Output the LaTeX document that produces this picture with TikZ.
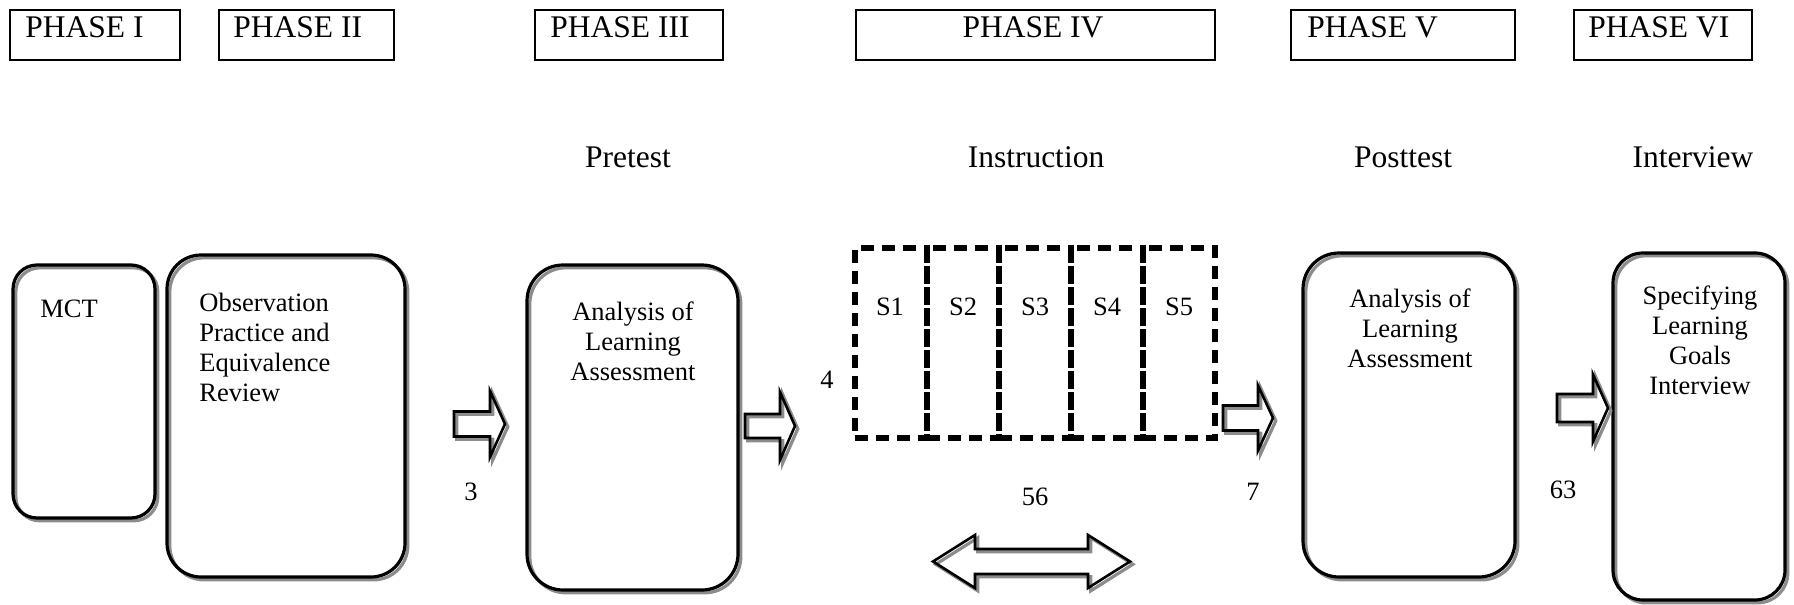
\documentclass[tikz,border=0pt]{standalone}
\usepackage{fontspec}
\setmainfont{Liberation Serif}
\begin{document}
\begin{tikzpicture}[x=0.5pt,y=-0.5pt,
  phasebox/.style={draw, line width=1.35pt, inner sep=0, minimum height=25pt},
  lab/.style={inner sep=0, font=\fontsize{15.75pt}{18pt}\selectfont},
  txt/.style={inner sep=0, font=\fontsize{13.25pt}{15pt}\selectfont},
  shadowed/.style={preaction={draw=black!45, line width=1.6pt, transform canvas={shift={(1.4pt,-1.4pt)}}}},
  rbox/.style={draw, line width=1.6pt, inner sep=0, shadowed},
  barrow/.style={draw, line width=1.3pt, line join=miter, shadowed},
  sbox/.style={draw, line width=2.7pt, dash pattern=on 6.5pt off 4pt, inner sep=0, minimum width=36pt, minimum height=95pt}]

\useasboundingbox (0,0) rectangle (1794,605);

% phase headers
\node[phasebox, minimum width=85pt]   (p1) at (95,35) {};
\node[phasebox, minimum width=87.5pt] (p2) at (306.5,35) {};
\node[phasebox, minimum width=94pt]   (p3) at (629,35) {};
\node[phasebox, minimum width=179.5pt](p4) at (1035.5,35) {};
\node[phasebox, minimum width=112pt]  (p5) at (1403,35) {};
\node[phasebox, minimum width=89pt]   (p6) at (1663,35) {};
\node[lab, anchor=base west] (p1t) at (25,38) {PHASE I};
\node[lab, anchor=base west] (p2t) at (233,38) {PHASE II};
\node[lab, anchor=base west] (p3t) at (550,38) {PHASE III};
\node[lab, anchor=base]      (p4t) at (1033,38) {PHASE IV};
\node[lab, anchor=base west] (p5t) at (1307,38) {PHASE V};
\node[lab, anchor=base west] (p6t) at (1588,38) {PHASE VI};

% stage labels
\node[lab, anchor=base] (lpre)  at (628,167)  {Pretest};
\node[lab, anchor=base] (lins)  at (1036,167) {Instruction};
\node[lab, anchor=base] (lpost) at (1403,167) {Posttest};
\node[lab, anchor=base] (lint)  at (1693,167) {Interview};

% rounded boxes
\node[rbox, rounded corners=12pt, minimum width=71pt,  minimum height=126.5pt] (mct)  at (84,391.5) {};
\node[rbox, rounded corners=17pt, minimum width=119pt, minimum height=161pt]   (obs)  at (286,416) {};
\node[rbox, rounded corners=18pt, minimum width=105.5pt, minimum height=162.5pt] (pre) at (632.5,427.5) {};
\node[rbox, rounded corners=18pt, minimum width=106pt, minimum height=162pt]   (post) at (1409,415) {};
\node[rbox, rounded corners=15pt, minimum width=86pt,  minimum height=173.5pt] (intv) at (1699,426.5) {};

% (base anchor of a multi-line node = baseline of its last line)
\node[txt, anchor=base west] (mctt) at (40,317) {MCT};
\node[txt, anchor=base west, align=left] (obst) at (199,401) {Observation\\Practice and\\Equivalence\\Review};
\node[txt, anchor=base, align=center] (pret) at (633,380) {Analysis of\\Learning\\Assessment};
\node[txt, anchor=base, align=center] (postt) at (1410,367) {Analysis of\\Learning\\Assessment};
\node[txt, anchor=base, align=center] (intvt) at (1700,394) {Specifying\\Learning\\Goals\\Interview};

% instruction sessions
\node[sbox] (s1) at (891,343) {};
\node[sbox] (s2) at (963,343) {};
\node[sbox] (s3) at (1035,343) {};
\node[sbox] (s4) at (1107,343) {};
\node[sbox] (s5) at (1179,343) {};
\node[txt, anchor=base] (s1t) at (890,315) {S1};
\node[txt, anchor=base] (s2t) at (963,315) {S2};
\node[txt, anchor=base] (s3t) at (1035,315) {S3};
\node[txt, anchor=base] (s4t) at (1107,315) {S4};
\node[txt, anchor=base] (s5t) at (1179,315) {S5};

% block arrows
\draw[barrow] (454,411.5) -- (490,411.5) -- (490,391) -- (505,424) -- (490,457) -- (490,436.5) -- (454,436.5) -- cycle;
\draw[barrow] (745,414) -- (780,414) -- (780,392) -- (795,426) -- (780,460) -- (780,438) -- (745,438) -- cycle;
\draw[barrow] (1223,405.5) -- (1258,405.5) -- (1258,385.5) -- (1273,418) -- (1258,450.5) -- (1258,430.5) -- (1223,430.5) -- cycle;
\draw[barrow] (1557,394) -- (1593,394) -- (1593,374.5) -- (1608,408) -- (1593,441.5) -- (1593,422) -- (1557,422) -- cycle;
\draw[barrow] (933,561.5) -- (975,535) -- (975,549) -- (1088,549) -- (1088,535) -- (1130,561.5) -- (1088,588) -- (1088,574) -- (975,574) -- (975,588) -- cycle;

% numbers
\node[txt, anchor=base] (n3)  at (471,500)  {3};
\node[txt, anchor=base] (n4)  at (827,388)  {4};
\node[txt, anchor=base] (n7)  at (1253,500) {7};
\node[txt, anchor=base] (n56) at (1035,505) {56};
\node[txt, anchor=base] (n63) at (1563,498) {63};
\end{tikzpicture}
\end{document}
